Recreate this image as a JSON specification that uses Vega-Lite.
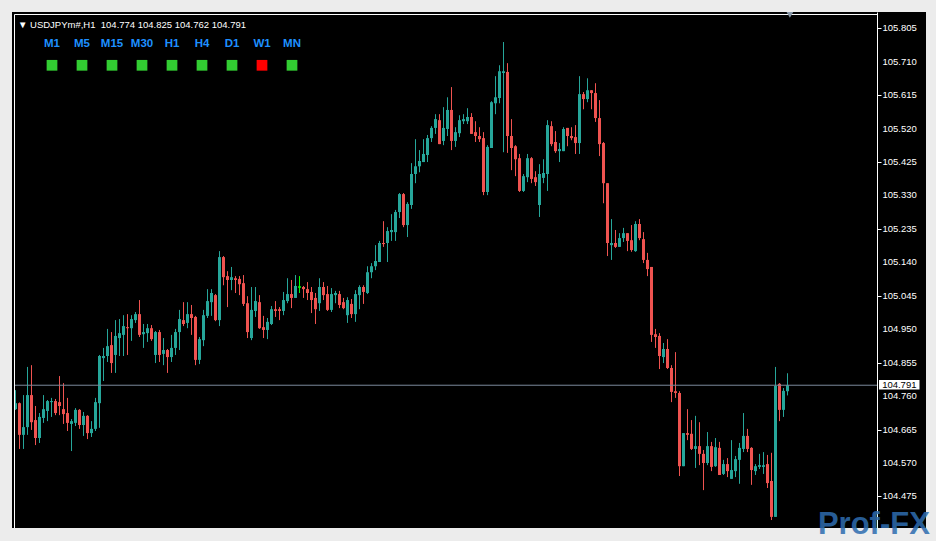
{
"$schema": "https://vega.github.io/schema/vega-lite/v6.json",
"width": 914, "height": 516,
"autosize": {"type": "none"},
"padding": {"left": 12, "top": 12, "right": 10, "bottom": 13},
"background": "#ececec",
"config": {"view": {"stroke": null, "fill": "#000000"}, "font": "Liberation Sans", "scale": {"continuousPadding": 0, "pointPadding": 0}},
"title": {"text": "▼ USDJPYm#,H1\u00a0 104.774 104.825 104.762 104.791", "anchor": "start", "frame": "group", "orient": "top", "offset": 0, "dx": 6, "dy": 17, "color": "#ffffff", "fontSize": 9.5, "fontWeight": "normal", "font": "Liberation Sans"},
"datasets": {
"candles": [
{"i":0,"o":104.723,"h":104.777,"l":104.721,"c":104.740},
{"i":1,"o":104.740,"h":104.742,"l":104.610,"c":104.650},
{"i":2,"o":104.650,"h":104.763,"l":104.610,"c":104.672},
{"i":3,"o":104.672,"h":104.843,"l":104.650,"c":104.763},
{"i":4,"o":104.763,"h":104.848,"l":104.664,"c":104.686},
{"i":5,"o":104.692,"h":104.732,"l":104.621,"c":104.641},
{"i":6,"o":104.641,"h":104.712,"l":104.627,"c":104.701},
{"i":7,"o":104.698,"h":104.763,"l":104.684,"c":104.723},
{"i":8,"o":104.718,"h":104.749,"l":104.689,"c":104.746},
{"i":9,"o":104.743,"h":104.755,"l":104.701,"c":104.746},
{"i":10,"o":104.746,"h":104.752,"l":104.706,"c":104.712},
{"i":11,"o":104.743,"h":104.817,"l":104.706,"c":104.732},
{"i":12,"o":104.723,"h":104.797,"l":104.681,"c":104.709},
{"i":13,"o":104.712,"h":104.755,"l":104.661,"c":104.684},
{"i":14,"o":104.681,"h":104.695,"l":104.604,"c":104.689},
{"i":15,"o":104.684,"h":104.726,"l":104.675,"c":104.721},
{"i":16,"o":104.721,"h":104.723,"l":104.667,"c":104.678},
{"i":17,"o":104.678,"h":104.715,"l":104.647,"c":104.704},
{"i":18,"o":104.704,"h":104.706,"l":104.638,"c":104.655},
{"i":19,"o":104.655,"h":104.689,"l":104.644,"c":104.667},
{"i":20,"o":104.667,"h":104.755,"l":104.661,"c":104.743},
{"i":21,"o":104.740,"h":104.877,"l":104.670,"c":104.874},
{"i":22,"o":104.868,"h":104.897,"l":104.803,"c":104.874},
{"i":23,"o":104.874,"h":104.951,"l":104.857,"c":104.902},
{"i":24,"o":104.905,"h":104.942,"l":104.826,"c":104.854},
{"i":25,"o":104.877,"h":104.976,"l":104.826,"c":104.931},
{"i":26,"o":104.925,"h":104.979,"l":104.874,"c":104.939},
{"i":27,"o":104.934,"h":104.990,"l":104.874,"c":104.959},
{"i":28,"o":104.956,"h":104.993,"l":104.877,"c":104.953},
{"i":29,"o":104.953,"h":104.990,"l":104.917,"c":104.979},
{"i":30,"o":104.976,"h":104.999,"l":104.968,"c":104.993},
{"i":31,"o":104.993,"h":105.033,"l":104.928,"c":104.934},
{"i":32,"o":104.936,"h":104.965,"l":104.897,"c":104.942},
{"i":33,"o":104.939,"h":104.965,"l":104.914,"c":104.953},
{"i":34,"o":104.953,"h":104.962,"l":104.917,"c":104.922},
{"i":35,"o":104.877,"h":104.945,"l":104.854,"c":104.942},
{"i":36,"o":104.942,"h":104.948,"l":104.857,"c":104.877},
{"i":37,"o":104.880,"h":104.925,"l":104.848,"c":104.891},
{"i":38,"o":104.891,"h":104.894,"l":104.826,"c":104.871},
{"i":39,"o":104.871,"h":104.934,"l":104.857,"c":104.897},
{"i":40,"o":104.897,"h":104.951,"l":104.877,"c":104.942},
{"i":41,"o":104.942,"h":105.005,"l":104.891,"c":104.979},
{"i":42,"o":104.976,"h":105.027,"l":104.959,"c":104.965},
{"i":43,"o":104.968,"h":105.027,"l":104.953,"c":104.993},
{"i":44,"o":104.993,"h":105.019,"l":104.934,"c":104.982},
{"i":45,"o":104.985,"h":104.988,"l":104.848,"c":104.863},
{"i":46,"o":104.863,"h":104.928,"l":104.851,"c":104.922},
{"i":47,"o":104.919,"h":105.005,"l":104.902,"c":104.990},
{"i":48,"o":104.988,"h":105.064,"l":104.982,"c":105.030},
{"i":49,"o":105.027,"h":105.064,"l":104.988,"c":105.053},
{"i":50,"o":105.047,"h":105.050,"l":104.973,"c":104.976},
{"i":51,"o":104.976,"h":105.172,"l":104.959,"c":105.155},
{"i":52,"o":105.155,"h":105.158,"l":105.075,"c":105.098},
{"i":53,"o":105.101,"h":105.115,"l":105.013,"c":105.090},
{"i":54,"o":105.090,"h":105.127,"l":105.061,"c":105.098},
{"i":55,"o":105.095,"h":105.101,"l":105.053,"c":105.090},
{"i":56,"o":105.093,"h":105.101,"l":105.047,"c":105.078},
{"i":57,"o":105.081,"h":105.104,"l":105.016,"c":105.022},
{"i":58,"o":105.024,"h":105.044,"l":104.925,"c":104.942},
{"i":59,"o":104.925,"h":105.070,"l":104.919,"c":105.005},
{"i":60,"o":105.002,"h":105.070,"l":104.985,"c":105.030},
{"i":61,"o":105.027,"h":105.047,"l":104.951,"c":104.953},
{"i":62,"o":104.956,"h":104.988,"l":104.925,"c":104.948},
{"i":63,"o":104.948,"h":104.982,"l":104.922,"c":104.971},
{"i":64,"o":104.965,"h":105.016,"l":104.962,"c":105.007},
{"i":65,"o":105.007,"h":105.030,"l":104.985,"c":105.002},
{"i":66,"o":105.007,"h":105.013,"l":104.976,"c":105.002},
{"i":67,"o":105.002,"h":105.056,"l":104.990,"c":105.033},
{"i":68,"o":105.030,"h":105.095,"l":105.024,"c":105.050},
{"i":69,"o":105.050,"h":105.090,"l":105.010,"c":105.039},
{"i":70,"o":105.039,"h":105.104,"l":105.039,"c":105.073},
{"i":71,"o":105.070,"h":105.101,"l":105.053,"c":105.070},
{"i":72,"o":105.070,"h":105.073,"l":105.039,"c":105.064},
{"i":73,"o":105.064,"h":105.084,"l":105.033,"c":105.053},
{"i":74,"o":105.056,"h":105.070,"l":104.996,"c":105.033},
{"i":75,"o":105.039,"h":105.053,"l":104.965,"c":105.007},
{"i":76,"o":105.024,"h":105.095,"l":105.002,"c":105.070},
{"i":77,"o":105.070,"h":105.084,"l":105.033,"c":105.047},
{"i":78,"o":105.050,"h":105.073,"l":105.002,"c":105.005},
{"i":79,"o":105.005,"h":105.067,"l":104.999,"c":105.050},
{"i":80,"o":105.047,"h":105.059,"l":105.024,"c":105.053},
{"i":81,"o":105.050,"h":105.059,"l":105.010,"c":105.019},
{"i":82,"o":105.027,"h":105.039,"l":105.007,"c":105.010},
{"i":83,"o":104.990,"h":105.041,"l":104.968,"c":105.033},
{"i":84,"o":105.022,"h":105.036,"l":104.982,"c":104.993},
{"i":85,"o":104.993,"h":105.061,"l":104.971,"c":105.050},
{"i":86,"o":105.047,"h":105.075,"l":105.007,"c":105.070},
{"i":87,"o":105.070,"h":105.075,"l":105.022,"c":105.056},
{"i":88,"o":105.053,"h":105.129,"l":105.050,"c":105.112},
{"i":89,"o":105.112,"h":105.138,"l":105.095,"c":105.129},
{"i":90,"o":105.129,"h":105.189,"l":105.118,"c":105.144},
{"i":91,"o":105.141,"h":105.201,"l":105.141,"c":105.195},
{"i":92,"o":105.195,"h":105.257,"l":105.184,"c":105.192},
{"i":93,"o":105.195,"h":105.240,"l":105.141,"c":105.229},
{"i":94,"o":105.226,"h":105.277,"l":105.201,"c":105.232},
{"i":95,"o":105.226,"h":105.289,"l":105.201,"c":105.283},
{"i":96,"o":105.283,"h":105.337,"l":105.266,"c":105.334},
{"i":97,"o":105.334,"h":105.337,"l":105.240,"c":105.246},
{"i":98,"o":105.246,"h":105.311,"l":105.212,"c":105.306},
{"i":99,"o":105.303,"h":105.422,"l":105.292,"c":105.391},
{"i":100,"o":105.391,"h":105.490,"l":105.365,"c":105.413},
{"i":101,"o":105.413,"h":105.459,"l":105.396,"c":105.428},
{"i":102,"o":105.425,"h":105.490,"l":105.425,"c":105.448},
{"i":103,"o":105.445,"h":105.502,"l":105.425,"c":105.493},
{"i":104,"o":105.493,"h":105.527,"l":105.482,"c":105.522},
{"i":105,"o":105.522,"h":105.561,"l":105.505,"c":105.547},
{"i":106,"o":105.544,"h":105.561,"l":105.476,"c":105.476},
{"i":107,"o":105.485,"h":105.581,"l":105.473,"c":105.522},
{"i":108,"o":105.519,"h":105.609,"l":105.499,"c":105.573},
{"i":109,"o":105.573,"h":105.638,"l":105.459,"c":105.485},
{"i":110,"o":105.485,"h":105.524,"l":105.468,"c":105.510},
{"i":111,"o":105.507,"h":105.558,"l":105.496,"c":105.544},
{"i":112,"o":105.541,"h":105.561,"l":105.533,"c":105.547},
{"i":113,"o":105.541,"h":105.578,"l":105.533,"c":105.553},
{"i":114,"o":105.553,"h":105.564,"l":105.505,"c":105.505},
{"i":115,"o":105.510,"h":105.541,"l":105.482,"c":105.499},
{"i":116,"o":105.499,"h":105.524,"l":105.482,"c":105.490},
{"i":117,"o":105.493,"h":105.510,"l":105.331,"c":105.340},
{"i":118,"o":105.340,"h":105.473,"l":105.331,"c":105.468},
{"i":119,"o":105.465,"h":105.598,"l":105.465,"c":105.595},
{"i":120,"o":105.592,"h":105.669,"l":105.561,"c":105.609},
{"i":121,"o":105.607,"h":105.700,"l":105.592,"c":105.683},
{"i":122,"o":105.678,"h":105.766,"l":105.453,"c":105.683},
{"i":123,"o":105.681,"h":105.706,"l":105.451,"c":105.499},
{"i":124,"o":105.499,"h":105.547,"l":105.402,"c":105.465},
{"i":125,"o":105.470,"h":105.473,"l":105.385,"c":105.433},
{"i":126,"o":105.436,"h":105.448,"l":105.340,"c":105.343},
{"i":127,"o":105.343,"h":105.391,"l":105.340,"c":105.385},
{"i":128,"o":105.382,"h":105.448,"l":105.368,"c":105.436},
{"i":129,"o":105.436,"h":105.439,"l":105.365,"c":105.377},
{"i":130,"o":105.382,"h":105.399,"l":105.357,"c":105.368},
{"i":131,"o":105.303,"h":105.419,"l":105.269,"c":105.391},
{"i":132,"o":105.380,"h":105.433,"l":105.365,"c":105.394},
{"i":133,"o":105.391,"h":105.544,"l":105.343,"c":105.530},
{"i":134,"o":105.527,"h":105.541,"l":105.470,"c":105.476},
{"i":135,"o":105.482,"h":105.513,"l":105.451,"c":105.456},
{"i":136,"o":105.456,"h":105.479,"l":105.425,"c":105.462},
{"i":137,"o":105.456,"h":105.524,"l":105.456,"c":105.519},
{"i":138,"o":105.522,"h":105.522,"l":105.470,"c":105.499},
{"i":139,"o":105.499,"h":105.524,"l":105.487,"c":105.493},
{"i":140,"o":105.496,"h":105.530,"l":105.448,"c":105.479},
{"i":141,"o":105.479,"h":105.669,"l":105.448,"c":105.618},
{"i":142,"o":105.618,"h":105.624,"l":105.575,"c":105.604},
{"i":143,"o":105.604,"h":105.663,"l":105.595,"c":105.629},
{"i":144,"o":105.629,"h":105.629,"l":105.575,"c":105.621},
{"i":145,"o":105.621,"h":105.649,"l":105.539,"c":105.550},
{"i":146,"o":105.550,"h":105.601,"l":105.442,"c":105.476},
{"i":147,"o":105.479,"h":105.482,"l":105.308,"c":105.365},
{"i":148,"o":105.365,"h":105.365,"l":105.158,"c":105.195},
{"i":149,"o":105.189,"h":105.263,"l":105.147,"c":105.195},
{"i":150,"o":105.195,"h":105.232,"l":105.181,"c":105.184},
{"i":151,"o":105.184,"h":105.223,"l":105.184,"c":105.209},
{"i":152,"o":105.209,"h":105.238,"l":105.198,"c":105.223},
{"i":153,"o":105.223,"h":105.223,"l":105.172,"c":105.201},
{"i":154,"o":105.203,"h":105.246,"l":105.170,"c":105.175},
{"i":155,"o":105.172,"h":105.257,"l":105.170,"c":105.249},
{"i":156,"o":105.249,"h":105.263,"l":105.203,"c":105.209},
{"i":157,"o":105.206,"h":105.226,"l":105.138,"c":105.147},
{"i":158,"o":105.147,"h":105.167,"l":105.101,"c":105.121},
{"i":159,"o":105.127,"h":105.127,"l":104.914,"c":104.934},
{"i":160,"o":104.936,"h":104.951,"l":104.897,"c":104.928},
{"i":161,"o":104.931,"h":104.939,"l":104.837,"c":104.874},
{"i":162,"o":104.871,"h":104.911,"l":104.854,"c":104.894},
{"i":163,"o":104.894,"h":104.922,"l":104.837,"c":104.840},
{"i":164,"o":104.840,"h":104.848,"l":104.743,"c":104.772},
{"i":165,"o":104.774,"h":104.885,"l":104.755,"c":104.769},
{"i":166,"o":104.769,"h":104.774,"l":104.533,"c":104.561},
{"i":167,"o":104.561,"h":104.655,"l":104.561,"c":104.655},
{"i":168,"o":104.655,"h":104.723,"l":104.635,"c":104.650},
{"i":169,"o":104.653,"h":104.692,"l":104.607,"c":104.610},
{"i":170,"o":104.610,"h":104.704,"l":104.556,"c":104.618},
{"i":171,"o":104.618,"h":104.686,"l":104.564,"c":104.596},
{"i":172,"o":104.596,"h":104.607,"l":104.493,"c":104.570},
{"i":173,"o":104.570,"h":104.658,"l":104.564,"c":104.618},
{"i":174,"o":104.618,"h":104.630,"l":104.547,"c":104.559},
{"i":175,"o":104.561,"h":104.641,"l":104.559,"c":104.615},
{"i":176,"o":104.613,"h":104.630,"l":104.536,"c":104.536},
{"i":177,"o":104.539,"h":104.579,"l":104.536,"c":104.567},
{"i":178,"o":104.567,"h":104.584,"l":104.530,"c":104.547},
{"i":179,"o":104.525,"h":104.635,"l":104.525,"c":104.550},
{"i":180,"o":104.547,"h":104.590,"l":104.530,"c":104.581},
{"i":181,"o":104.579,"h":104.627,"l":104.511,"c":104.613},
{"i":182,"o":104.610,"h":104.712,"l":104.601,"c":104.647},
{"i":183,"o":104.647,"h":104.667,"l":104.601,"c":104.610},
{"i":184,"o":104.613,"h":104.615,"l":104.508,"c":104.550},
{"i":185,"o":104.547,"h":104.567,"l":104.536,"c":104.561},
{"i":186,"o":104.559,"h":104.596,"l":104.553,"c":104.564},
{"i":187,"o":104.559,"h":104.601,"l":104.539,"c":104.564},
{"i":188,"o":104.567,"h":104.593,"l":104.499,"c":104.513},
{"i":189,"o":104.519,"h":104.599,"l":104.408,"c":104.417},
{"i":190,"o":104.417,"h":104.843,"l":104.417,"c":104.789},
{"i":191,"o":104.795,"h":104.797,"l":104.689,"c":104.721},
{"i":192,"o":104.721,"h":104.783,"l":104.701,"c":104.775},
{"i":193,"o":104.774,"h":104.825,"l":104.762,"c":104.791}
],
"last": [{"price": 104.791}],
"ticks": [{"v":104.475},{"v":104.570},{"v":104.665},{"v":104.760},{"v":104.855},{"v":104.950},{"v":105.045},{"v":105.140},{"v":105.235},{"v":105.330},{"v":105.425},{"v":105.520},{"v":105.615},{"v":105.710},{"v":105.805}],
"tf": [
{"tf":"M1","state":"up"},{"tf":"M5","state":"up"},{"tf":"M15","state":"up"},{"tf":"M30","state":"up"},{"tf":"H1","state":"up"},{"tf":"H4","state":"up"},{"tf":"D1","state":"up"},{"tf":"W1","state":"down"},{"tf":"MN","state":"up"}
]
},
"layer": [
{
"layer": [
{
"data": {"name": "candles"},
"mark": {"type": "rule", "strokeWidth": 1},
"encoding": {
"x": {"field": "i", "type": "quantitative", "scale": {"domain": [-0.875, 227.625], "nice": false, "zero": false, "padding": 0}, "axis": null},
"y": {"field": "l", "type": "quantitative", "scale": {"domain": [104.3854, 105.8513], "nice": false, "zero": false, "padding": 0},
"axis": {"orient": "right", "offset": -49, "values": [104.475,104.570,104.665,104.760,104.855,104.950,105.045,105.140,105.235,105.330,105.425,105.520,105.615,105.710,105.805], "labels": false, "title": null, "grid": false, "domainColor": "#ffffff", "domainWidth": 1, "tickColor": "#ffffff", "tickSize": 4}},
"y2": {"field": "h"},
"color": {"condition": [{"test": "datum.c == datum.o", "value": "#00ff00"}, {"test": "datum.c > datum.o", "value": "#26a69a"}], "value": "#ef5350"}
}
},
{
"data": {"name": "candles"},
"mark": {"type": "bar", "width": 3, "stroke": "#00ff00"},
"encoding": {
"x": {"field": "i", "type": "quantitative"},
"y": {"field": "o", "type": "quantitative"},
"y2": {"field": "c"},
"color": {"condition": [{"test": "datum.c == datum.o", "value": "#00ff00"}, {"test": "datum.c > datum.o", "value": "#26a69a"}], "value": "#ef5350"},
"strokeWidth": {"condition": {"test": "datum.c == datum.o", "value": 1}, "value": 0}
}
},
{
"data": {"name": "ticks"},
"mark": {"type": "text", "color": "#ffffff", "font": "Liberation Sans", "fontSize": 9.5, "align": "left", "baseline": "middle"},
"encoding": {
"x": {"datum": 216.75},
"y": {"field": "v", "type": "quantitative"},
"text": {"field": "v", "type": "quantitative", "format": ".3f"}
}
},
{
"data": {"name": "last"},
"mark": {"type": "rule", "color": "#7c8a9c", "strokeWidth": 1},
"encoding": {
"y": {"field": "price", "type": "quantitative"},
"x": {"datum": -0.375},
"x2": {"datum": 215.375}
}
},
{
"data": {"name": "last"},
"mark": {"type": "rule", "color": "#ffffff", "strokeWidth": 1},
"encoding": {
"x": {"datum": -0.25},
"y": {"datum": 105.8442},
"y2": {"datum": 104.3854}
}
},
{
"data": {"name": "last"},
"mark": {"type": "rule", "color": "#ffffff", "strokeWidth": 1},
"encoding": {
"y": {"datum": 105.8442},
"x": {"datum": -0.25},
"x2": {"datum": 215.375}
}
},
{
"data": {"name": "last"},
"mark": {"type": "point", "shape": "triangle-down", "filled": true, "size": 45, "color": "#8797a8", "opacity": 1},
"encoding": {
"x": {"datum": 193.6},
"y": {"datum": 105.843}
}
},
{
"data": {"name": "last"},
"mark": {"type": "rect", "color": "#ffffff"},
"encoding": {
"x": {"datum": 215.875},
"x2": {"datum": 226.0},
"y": {"datum": 104.7789},
"y2": {"datum": 104.8059}
}
},
{
"data": {"name": "last"},
"mark": {"type": "text", "color": "#000000", "font": "Liberation Sans", "fontSize": 9.5, "align": "center", "baseline": "middle"},
"encoding": {
"x": {"datum": 220.95},
"y": {"field": "price", "type": "quantitative"},
"text": {"field": "price", "type": "quantitative", "format": ".3f"}
}
},
{
"data": {"name": "last"},
"mark": {"type": "text", "text": "Prof-FX", "color": "#2e6db0", "opacity": 0.85, "font": "Liberation Sans", "fontWeight": "bold", "fontSize": 31, "align": "left", "baseline": "alphabetic"},
"encoding": {
"x": {"datum": 200.6},
"y": {"datum": 104.368}
}
}
]
},
{
"data": {"name": "tf"},
"layer": [
{
"mark": {"type": "text", "color": "#1e90ff", "fontWeight": "bold", "fontSize": 11.5, "font": "Liberation Sans", "align": "center", "baseline": "middle"},
"encoding": {
"x": {"field": "tf", "type": "nominal", "sort": null, "scale": {"type": "point", "domain": ["M1","M5","M15","M30","H1","H4","D1","W1","MN"], "range": [40, 280], "padding": 0}, "axis": null},
"y": {"datum": "label", "type": "nominal", "scale": {"type": "point", "domain": ["label", "box"], "range": [32, 53.3], "padding": 0}, "axis": null},
"text": {"field": "tf"}
}
},
{
"mark": {"type": "point", "shape": "square", "filled": true, "size": 115, "opacity": 1},
"encoding": {
"x": {"field": "tf", "type": "nominal", "sort": null},
"y": {"datum": "box", "type": "nominal"},
"color": {"field": "state", "type": "nominal", "scale": {"domain": ["up", "down"], "range": ["#32cd32", "#ff0000"]}, "legend": null}
}
}
]
}
],
"resolve": {"scale": {"x": "independent", "y": "independent", "color": "independent"}}
}
